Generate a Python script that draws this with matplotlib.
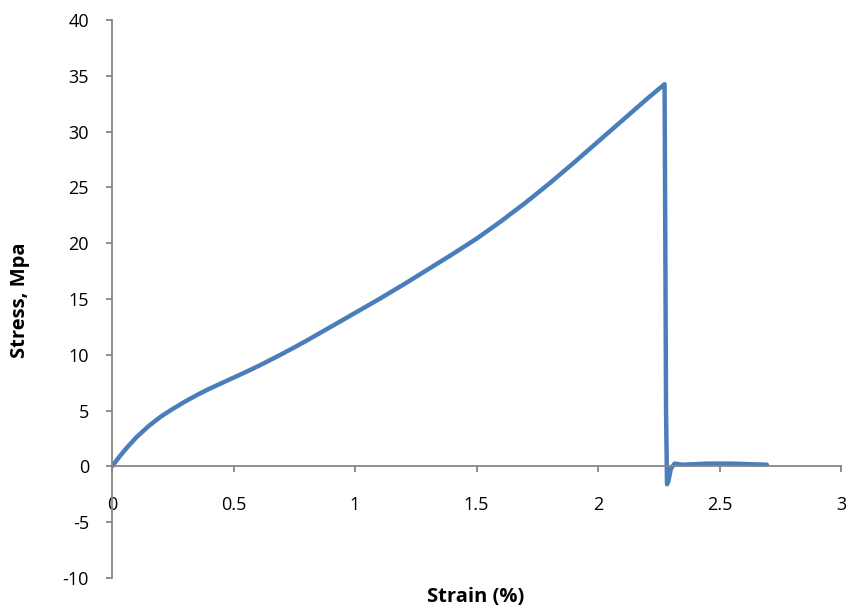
import matplotlib
matplotlib.use("Agg")
import matplotlib.pyplot as plt

strain = [0, 0.03, 0.06, 0.1, 0.15, 0.2, 0.25, 0.3, 0.35, 0.4, 0.45, 0.5, 0.55, 0.6, 0.65,
          0.7, 0.75, 0.8, 0.9, 1.0, 1.1, 1.2, 1.3, 1.4, 1.5, 1.6, 1.7, 1.8, 1.9, 2.0, 2.1,
          2.2, 2.274,
          2.277, 2.280, 2.284, 2.29, 2.30, 2.315, 2.35, 2.45, 2.55, 2.65, 2.695]
stress = [0, 0.85, 1.65, 2.6, 3.6, 4.45, 5.15, 5.8, 6.4, 6.95, 7.45, 7.95, 8.45, 8.97, 9.52,
          10.08, 10.66, 11.26, 12.5, 13.75, 15.0, 16.3, 17.65, 19.0, 20.4, 21.95, 23.6, 25.35, 27.2, 29.1, 31.0,
          32.9, 34.25,
          20.0, 5.0, -1.6, -1.3, -0.2, 0.25, 0.15, 0.25, 0.25, 0.18, 0.15]

xticks = [0, 0.5, 1, 1.5, 2, 2.5, 3]
xticklabels = ["0", "0.5", "1", "1.5", "2", "2.5", "3"]
yticks = [-10, -5, 0, 5, 10, 15, 20, 25, 30, 35, 40]
yticklabels = ["-10", "-5", "0", "5", "10", "15", "20", "25", "30", "35", "40"]

plt.rcParams['font.family'] = ['Open Sans', 'DejaVu Sans']

fig = plt.figure(figsize=(8.48, 6.11), dpi=100)
ax = fig.add_axes([112/848, 1 - 578/611, (841-112)/848, (578-20)/611])

ax.plot(strain, stress, color="#4A7EBB", lw=3.2, solid_joinstyle="round", solid_capstyle="round")

ax.set_xlim(0, 3)
ax.set_ylim(-10, 40)
ax.spines['left'].set_position(('data', 0))
ax.spines['bottom'].set_position(('data', 0))
ax.spines['top'].set_visible(False)
ax.spines['right'].set_visible(False)
for s in ('left', 'bottom'):
    ax.spines[s].set_color("#868686")
    ax.spines[s].set_linewidth(1.3)

ax.set_xticks(xticks)
ax.set_xticklabels(xticklabels)
ax.set_yticks(yticks)
ax.set_yticklabels(yticklabels)
ax.tick_params(axis='x', direction='out', length=4.5, width=1.3, color="#868686", labelsize=13, pad=17)
ax.tick_params(axis='y', direction='out', length=4.5, width=1.3, color="#868686", labelsize=13, pad=12)

fig.text(476/848, 1 - 597/611, "Strain (%)", ha='center', va='center', fontsize=14.5, fontweight='bold')
fig.text(20/848, 1 - 300/611, "Stress, Mpa", ha='center', va='center', rotation=90, fontsize=14.5, fontweight='bold')

fig.savefig("out.png", dpi=100)
